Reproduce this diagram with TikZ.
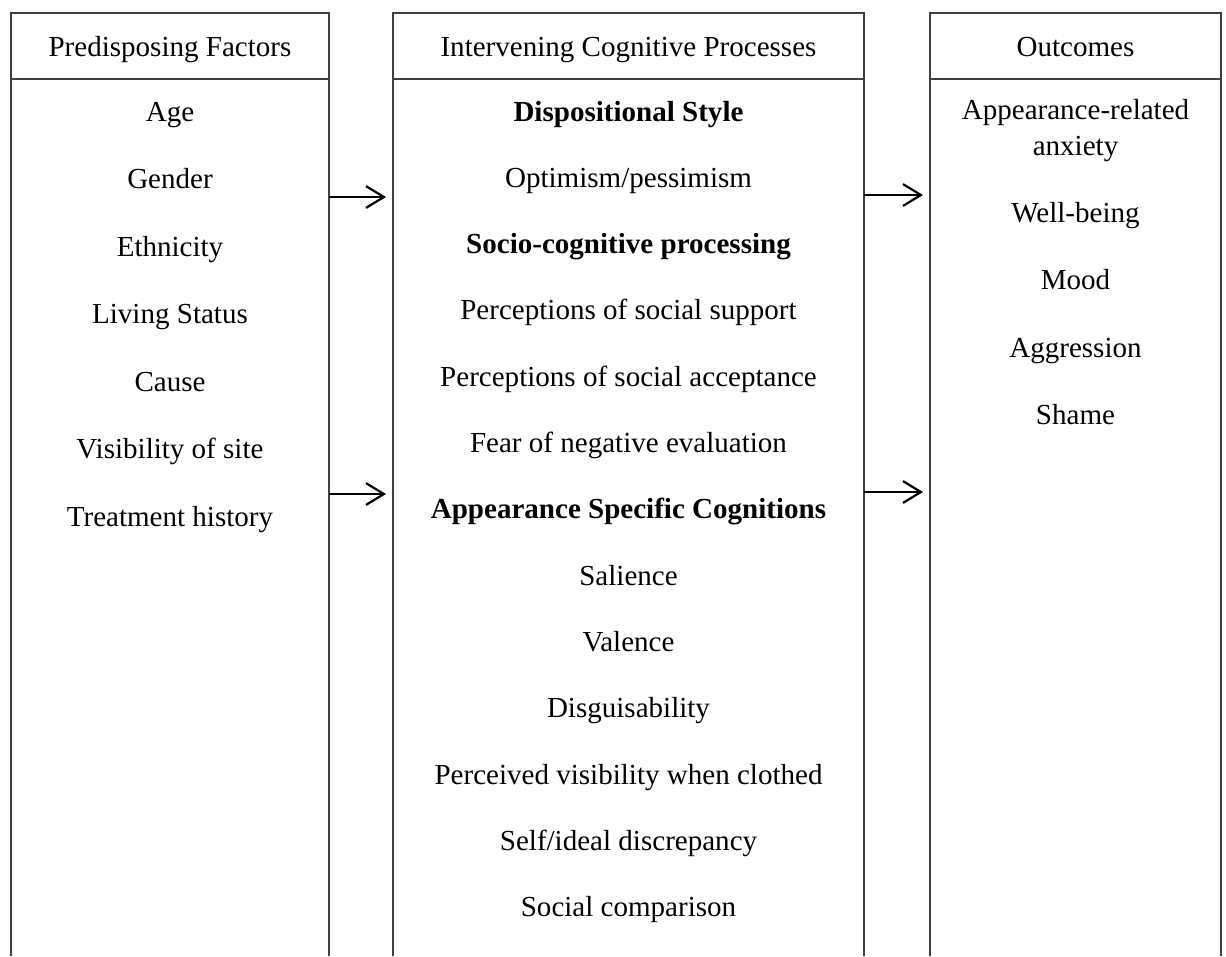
\documentclass[tikz,border=0pt]{standalone}
\usepackage{fontspec}
\setmainfont{Liberation Serif}
\usetikzlibrary{arrows.meta}
\begin{document}
\begin{tikzpicture}[x=0.4132pt,y=-0.4132pt,
  frame/.style={draw=black!75,line width=0.6pt},
  item/.style={anchor=base,inner sep=0pt,font=\fontsize{12}{14}\selectfont},
  head/.style={item},
  bolditem/.style={item,font=\fontsize{12}{14}\selectfont\bfseries},
  flow/.style={draw=black,line width=0.9pt,-{Straight Barb[length=7.4pt,width=9pt,line width=0.9pt]}}]
\useasboundingbox (0,0) rectangle (1226,956);

% column frames (open at the bottom)
\draw[frame] (11,956) -- (11,13) -- (329,13) -- (329,956);
\draw[frame] (11,79) -- (329,79);
\draw[frame] (393,956) -- (393,13) -- (864,13) -- (864,956);
\draw[frame] (393,79) -- (864,79);
\draw[frame] (930,956) -- (930,13) -- (1221,13) -- (1221,956);
\draw[frame] (930,79) -- (1221,79);

% headers
\node[head] (h1) at (170,56) {Predisposing Factors};
\node[head] (h2) at (628.5,56) {Intervening Cognitive Processes};
\node[head] (h3) at (1075.5,56) {Outcomes};

% predisposing factors
\node[item] (p1) at (170,121) {Age};
\node[item] (p2) at (170,188.5) {Gender};
\node[item] (p3) at (170,256) {Ethnicity};
\node[item] (p4) at (170,323.5) {Living Status};
\node[item] (p5) at (170,391) {Cause};
\node[item] (p6) at (170,458.5) {Visibility of site};
\node[item] (p7) at (170,526) {Treatment history};

% intervening cognitive processes
\node[bolditem] (m1) at (628.5,121) {Dispositional Style};
\node[item] (m2) at (628.5,187.3) {Optimism/pessimism};
\node[bolditem] (m3) at (628.5,253.6) {Socio-cognitive processing};
\node[item] (m4) at (628.5,319.9) {Perceptions of social support};
\node[item] (m5) at (628.5,386.2) {Perceptions of social acceptance};
\node[item] (m6) at (628.5,452.5) {Fear of negative evaluation};
\node[bolditem] (m7) at (628.5,518.8) {Appearance Specific Cognitions};
\node[item] (m8) at (628.5,585.1) {Salience};
\node[item] (m9) at (628.5,651.4) {Valence};
\node[item] (m10) at (628.5,717.7) {Disguisability};
\node[item] (m11) at (628.5,784) {Perceived visibility when clothed};
\node[item] (m12) at (628.5,850.3) {Self/ideal discrepancy};
\node[item] (m13) at (628.5,916.6) {Social comparison};

% outcomes
\node[item] (o1a) at (1075.5,119) {Appearance-related};
\node[item] (o1b) at (1075.5,155) {anxiety};
\node[item] (o2) at (1075.5,222) {Well-being};
\node[item] (o3) at (1075.5,289.5) {Mood};
\node[item] (o4) at (1075.5,357) {Aggression};
\node[item] (o5) at (1075.5,424.5) {Shame};

% arrow anchors
\coordinate (la) at (329,197);
\coordinate (lb) at (386,197);
\coordinate (lc) at (329,494);
\coordinate (ld) at (386,494);
\coordinate (ra) at (864,195);
\coordinate (rb) at (923,195);
\coordinate (rc) at (864,492);
\coordinate (rd) at (923,492);

\draw[flow] (la) -- (lb);
\draw[flow] (lc) -- (ld);
\draw[flow] (ra) -- (rb);
\draw[flow] (rc) -- (rd);
\end{tikzpicture}
\end{document}
